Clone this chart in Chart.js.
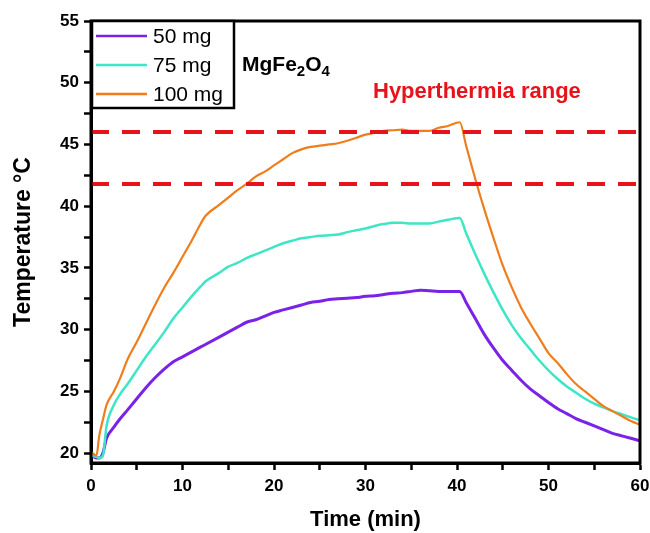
<!DOCTYPE html>
<html>
<head>
<meta charset="utf-8">
<script src="https://cdn.jsdelivr.net/npm/chart.js@4.4.1/dist/chart.umd.min.js"></script>
<style>
  html, body { margin: 0; padding: 0; background: #fff; }
  #wrap { width: 650px; height: 533px; }
</style>
</head>
<body>
<div id="wrap"><canvas id="myChart" width="650" height="533"></canvas></div>
<script>
// time axis (min), shared by the three curves
const timeMin = [0, 0.6, 0.9, 1.3, 1.7, 2.5, 3.2, 4, 5, 6, 7, 8, 9, 10, 11, 12, 12.5, 14, 15, 16, 17, 18, 19, 20,
  21, 22, 23, 24, 25, 26, 27, 28, 29, 30, 31, 32, 33, 34, 35, 36, 37, 38, 39, 40.3,
  41, 42, 43, 44, 45, 46, 47, 48, 49, 50, 51, 52, 53, 54, 55, 56, 57, 58, 59, 60];

const temp50 = [19.9, 19.6, 19.6, 20.0, 21.2, 22.1, 22.8, 23.5, 24.4, 25.3, 26.1, 26.8, 27.4, 27.8, 28.2, 28.6, 28.8, 29.4, 29.8, 30.2, 30.6, 30.8, 31.1, 31.4,
  31.6, 31.8, 32.0, 32.2, 32.3, 32.45, 32.5, 32.55, 32.6, 32.7, 32.75, 32.85, 32.95, 33.0, 33.1, 33.2, 33.15, 33.1, 33.1, 33.1,
  32.2, 30.9, 29.6, 28.5, 27.5, 26.7, 25.9, 25.2, 24.65, 24.1, 23.6, 23.2, 22.8, 22.5, 22.2, 21.9, 21.6, 21.4, 21.2, 21.0];

const temp75 = [19.8, 19.7, 19.6, 19.8, 22.2, 23.9, 24.8, 25.6, 26.7, 27.8, 28.8, 29.8, 30.9, 31.8, 32.7, 33.5, 33.9, 34.6, 35.1, 35.4, 35.8, 36.1, 36.4, 36.7,
  37.0, 37.2, 37.4, 37.5, 37.6, 37.65, 37.7, 37.9, 38.05, 38.2, 38.4, 38.55, 38.65, 38.65, 38.6, 38.6, 38.6, 38.75, 38.9, 39.05,
  37.8, 36.1, 34.5, 33.0, 31.6, 30.35, 29.3, 28.4, 27.5, 26.7, 26.0, 25.4, 24.9, 24.4, 24.0, 23.7, 23.4, 23.15, 22.9, 22.65];

const temp100 = [20.1, 19.8, 21.4, 22.7, 23.9, 25.0, 26.1, 27.6, 29.0, 30.5, 32.0, 33.4, 34.6, 35.9, 37.2, 38.6, 39.2, 40.1, 40.7, 41.3, 41.8, 42.4, 42.8, 43.3,
  43.8, 44.3, 44.6, 44.8, 44.9, 45.0, 45.1, 45.3, 45.55, 45.8, 45.95, 46.1, 46.15, 46.2, 46.1, 46.1, 46.1, 46.35, 46.5, 46.8,
  44.9, 42.2, 39.7, 37.4, 35.2, 33.4, 31.8, 30.5, 29.3, 28.1, 27.3, 26.4, 25.6, 25.0, 24.4, 23.8, 23.4, 23.0, 22.6, 22.3];

const seriesLabels = ['50 mg', '75 mg', '100 mg'];
const seriesColors = ['#7a22e8', '#3ee6c6', '#f07d1c'];

// hyperthermia band (°C)
const rangeLow = 41.8;
const rangeHigh = 46;

const xTicks = [0, 10, 20, 30, 40, 50, 60];
const yTicks = [20, 25, 30, 35, 40, 45, 50, 55];

const FONT = "'Liberation Sans', Arial, sans-serif";

function toPoints(xs, ys) {
  return xs.map((x, i) => ({ x: x, y: ys[i] }));
}

// frame + legend box + labels
const decorPlugin = {
  id: 'decor',
  afterDatasetsDraw(chart) {
    const ctx = chart.ctx;
    const a = chart.chartArea;
    ctx.save();
    ctx.strokeStyle = '#000';
    ctx.lineWidth = 3;
    ctx.strokeRect(a.left, a.top, a.right - a.left, a.bottom - a.top);
    ctx.restore();
  },
  afterDraw(chart) {
    const ctx = chart.ctx;
    const a = chart.chartArea;
    ctx.save();

    // legend box
    const bx = a.left + 1, by = a.top, bw = 142, bh = 87;
    ctx.fillStyle = '#fff';
    ctx.fillRect(bx, by, bw, bh);
    ctx.strokeStyle = '#000';
    ctx.lineWidth = 2.5;
    ctx.strokeRect(bx, by, bw, bh);
    ctx.font = '21px ' + FONT;
    ctx.textBaseline = 'middle';
    ctx.textAlign = 'left';
    for (let i = 0; i < 3; i++) {
      const ds = chart.data.datasets[i];
      const y = by + 15 + i * 29;
      ctx.strokeStyle = ds.borderColor;
      ctx.lineWidth = 2.5;
      ctx.beginPath();
      ctx.moveTo(bx + 4, y);
      ctx.lineTo(bx + 55, y);
      ctx.stroke();
      ctx.fillStyle = '#000';
      ctx.fillText(ds.label, bx + 61, y + 1);
    }

    // MgFe2O4
    ctx.textBaseline = 'alphabetic';
    ctx.fillStyle = '#000';
    let x = 242, base = 71;
    const big = 'bold 21px ' + FONT, small = 'bold 15px ' + FONT;
    const parts = [['MgFe', big, 0], ['2', small, 5], ['O', big, 0], ['4', small, 5]];
    parts.forEach(p => {
      ctx.font = p[1];
      ctx.fillText(p[0], x, base + p[2]);
      x += ctx.measureText(p[0]).width;
    });

    // band label
    ctx.fillStyle = '#e8121a';
    ctx.font = 'bold 22px ' + FONT;
    ctx.fillText('Hyperthermia range', 373, 98);
    ctx.restore();
  }
};

const ctx = document.getElementById('myChart').getContext('2d');

const curve = { cubicInterpolationMode: 'monotone' };
const datasets = [
  Object.assign({ label: seriesLabels[0], data: toPoints(timeMin, temp50), borderColor: seriesColors[0], borderWidth: 3, order: 3 }, curve),
  Object.assign({ label: seriesLabels[1], data: toPoints(timeMin, temp75), borderColor: seriesColors[1], borderWidth: 2.5, order: 2 }, curve),
  Object.assign({ label: seriesLabels[2], data: toPoints(timeMin, temp100), borderColor: seriesColors[2], borderWidth: 2.2, order: 1 }, curve),
  { label: 'high', data: [{ x: 0, y: rangeHigh }, { x: 60, y: rangeHigh }], borderColor: '#e8121a', borderWidth: 4, borderDash: [18, 13], order: 0 },
  { label: 'low', data: [{ x: 0, y: rangeLow }, { x: 60, y: rangeLow }], borderColor: '#e8121a', borderWidth: 4, borderDash: [18, 13], order: 0 }
];

const myChart = new Chart(ctx, {
  type: 'line',
  data: { datasets: datasets },
  options: {
    responsive: false,
    animation: false,
    devicePixelRatio: 1,
    layout: { padding: { top: 21, right: 10, left: 0, bottom: 0 } },
    elements: { point: { radius: 0 }, line: { tension: 0, fill: false } },
    plugins: { legend: { display: false }, tooltip: { enabled: false } },
    scales: {
      x: {
        type: 'linear',
        min: 0,
        max: 60,
        afterFit: s => { s.height = 70; s.paddingRight = 0; s.paddingLeft = 0; },
        border: { display: true, color: '#000', width: 3 },
        grid: { drawOnChartArea: false, drawTicks: true, tickLength: 7, tickWidth: 2.5, tickColor: '#000' },
        ticks: {
          stepSize: 5,
          padding: 6,
          color: '#000',
          font: { family: FONT, size: 17, weight: 'bold' },
          callback: v => xTicks.includes(v) ? String(v) : ''
        },
        title: {
          display: true,
          text: 'Time (min)',
          color: '#000',
          font: { family: FONT, size: 22, weight: 'bold' },
          padding: { top: 0, bottom: 0 }
        }
      },
      y: {
        min: 19.2,
        max: 55,
        afterFit: s => { s.width = 91; s.paddingTop = 0; s.paddingBottom = 0; },
        border: { display: true, color: '#000', width: 3 },
        grid: { drawOnChartArea: false, drawTicks: true, tickLength: 7, tickWidth: 2.5, tickColor: '#000' },
        ticks: {
          stepSize: 2.5,
          includeBounds: false,
          padding: 5,
          color: '#000',
          font: { family: FONT, size: 17, weight: 'bold' },
          callback: v => yTicks.includes(v) ? String(v) : ''
        },
        title: {
          display: true,
          text: 'Temperature °C',
          color: '#000',
          font: { family: FONT, size: 23, weight: 'bold' },
          padding: { top: 10, bottom: 0 }
        }
      }
    }
  },
  plugins: [decorPlugin]
});
</script>
</body>
</html>
